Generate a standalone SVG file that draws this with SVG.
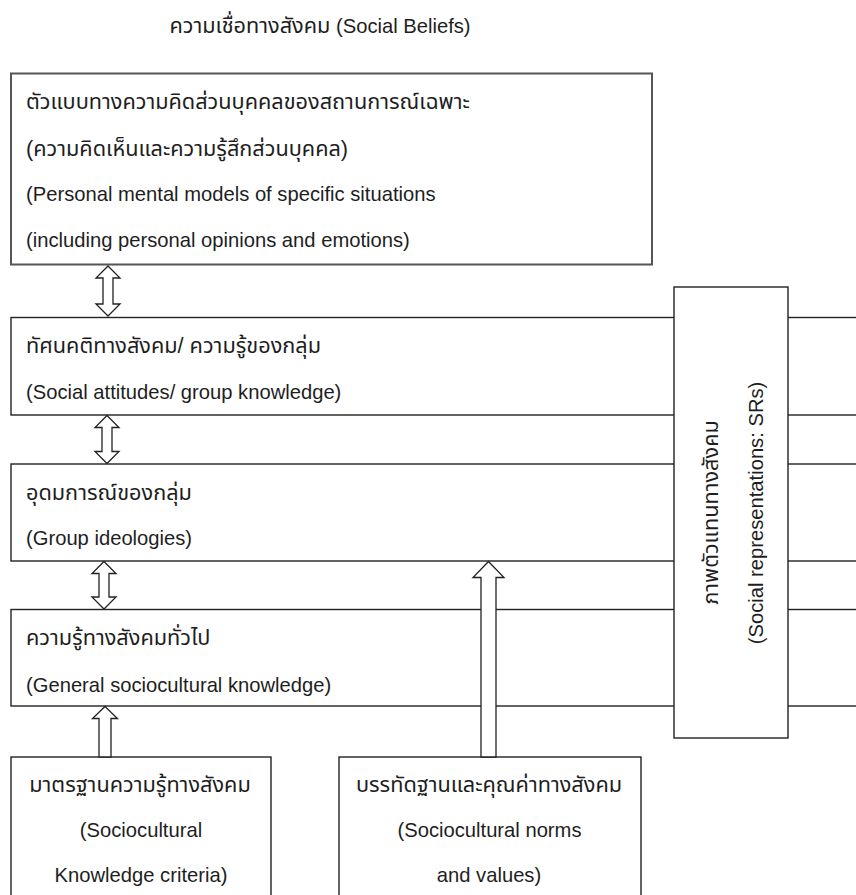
<svg xmlns="http://www.w3.org/2000/svg" width="856" height="895" viewBox="0 0 856 895">
<style>
  text { font-family: "Liberation Sans", "Noto Sans Thai", "Noto Sans", "DejaVu Sans", sans-serif; font-size: 20.2px; fill: #1e1e1e; }
  .th { font-size: 21.7px; }
  .box { fill: #ffffff; stroke: #222222; stroke-width: 1.4; }
  .top { fill: #ffffff; stroke: #555555; stroke-width: 2; }
  .arrow { fill: #ffffff; stroke: #222222; stroke-width: 1.3; stroke-linejoin: miter; }
  .c { text-anchor: middle; }
</style>
<rect width="856" height="895" fill="#ffffff"/>

<g id="title">
  <text x="320" y="33" class="c"><tspan class="th">ความเชื่อทางสังคม</tspan> (Social Beliefs)</text>
</g>

<g id="node-personal">
  <rect class="top" x="11" y="73.5" width="641" height="191"/>
  <text x="26" y="109" class="th">ตัวแบบทางความคิดส่วนบุคคลของสถานการณ์เฉพาะ</text>
  <text x="26" y="156" class="th">(ความคิดเห็นและความรู้สึกส่วนบุคคล)</text>
  <text x="26" y="201">(Personal mental models of specific situations</text>
  <text x="26" y="247">(including personal opinions and emotions)</text>
</g>

<g id="node-attitudes">
  <rect class="box" x="11" y="317.5" width="860" height="97.5"/>
  <text x="26" y="353" class="th">ทัศนคติทางสังคม/ ความรู้ของกลุ่ม</text>
  <text x="26" y="398.5">(Social attitudes/ group knowledge)</text>
</g>

<g id="node-ideologies">
  <rect class="box" x="11" y="464" width="860" height="97"/>
  <text x="26" y="499.5" class="th">อุดมการณ์ของกลุ่ม</text>
  <text x="26" y="545">(Group ideologies)</text>
</g>

<g id="node-general">
  <rect class="box" x="11" y="609.5" width="860" height="96.5"/>
  <text x="26" y="645" class="th">ความรู้ทางสังคมทั่วไป</text>
  <text x="26" y="691.5">(General sociocultural knowledge)</text>
</g>

<g id="node-criteria">
  <rect class="box" x="11" y="757" width="260" height="150"/>
  <text x="140" y="792" class="c th">มาตรฐานความรู้ทางสังคม</text>
  <text x="141" y="837" class="c">(Sociocultural</text>
  <text x="141" y="882" class="c">Knowledge criteria)</text>
</g>

<g id="node-norms">
  <rect class="box" x="339" y="757" width="302" height="150"/>
  <text x="489" y="792" class="c th">บรรทัดฐานและคุณค่าทางสังคม</text>
  <text x="489.5" y="837" class="c">(Sociocultural norms</text>
  <text x="489" y="882" class="c">and values)</text>
</g>

<g id="connectors">
  <polygon class="arrow" points="108,266 120,278 113,278 113,304 120,304 108,316 96,304 103,304 103,278 96,278"/>
  <polygon class="arrow" points="107,415.5 119,427.5 112,427.5 112,451.5 119,451.5 107,463.5 95,451.5 102,451.5 102,427.5 95,427.5"/>
  <polygon class="arrow" points="104,561.5 116,573.5 109,573.5 109,597 116,597 104,609 92,597 99,597 99,573.5 92,573.5"/>
  <polygon class="arrow" points="105,706.5 117.5,718.5 111,718.5 111,757 99,757 99,718.5 92.5,718.5"/>
  <polygon class="arrow" points="488.5,561.5 504,577.5 496,577.5 496,757 481,757 481,577.5 473,577.5"/>
</g>

<g id="node-representations">
  <rect class="box" x="674" y="287" width="114" height="451"/>
  <text transform="translate(718,512.5) rotate(-90)" class="c th">ภาพตัวแทนทางสังคม</text>
  <text transform="translate(763,513) rotate(-90)" class="c">(Social representations: SRs)</text>
</g>
</svg>
